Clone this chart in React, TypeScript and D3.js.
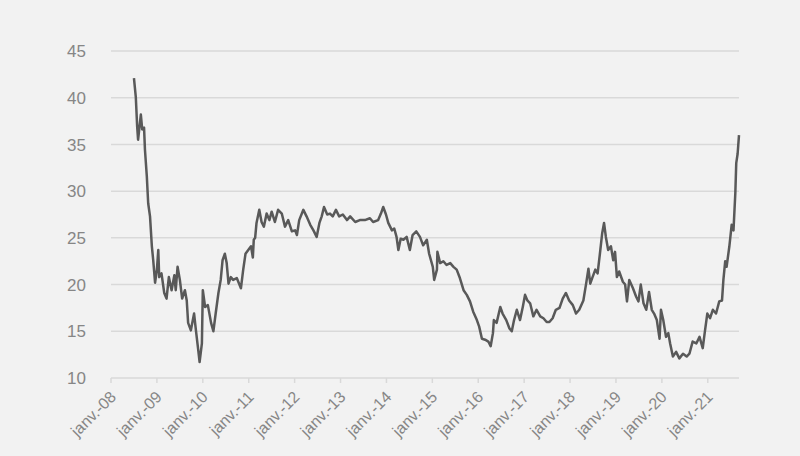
import React from "react";
import * as d3 from "d3";

// Decimal-year positions of the series samples
const years = [
  2008.50, 2008.54, 2008.57, 2008.59, 2008.65, 2008.68, 2008.72, 2008.74, 2008.78, 2008.81,
  2008.85, 2008.89, 2008.92, 2008.96, 2009.00, 2009.03, 2009.05, 2009.10, 2009.16, 2009.21,
  2009.26, 2009.32, 2009.38, 2009.41, 2009.45, 2009.50, 2009.55, 2009.61, 2009.65, 2009.68,
  2009.74, 2009.81, 2009.85, 2009.90, 2009.93, 2009.98, 2010.00, 2010.05, 2010.11, 2010.18,
  2010.23, 2010.28, 2010.34, 2010.39, 2010.43, 2010.48, 2010.52, 2010.56, 2010.61, 2010.66,
  2010.74, 2010.83, 2010.88, 2010.93, 2010.99, 2011.05, 2011.09, 2011.11, 2011.14, 2011.17,
  2011.23, 2011.28, 2011.33, 2011.39, 2011.45, 2011.50, 2011.57, 2011.64, 2011.72, 2011.79,
  2011.86, 2011.94, 2012.01, 2012.05, 2012.10, 2012.19, 2012.26, 2012.34, 2012.41, 2012.48,
  2012.54, 2012.59, 2012.64, 2012.71, 2012.77, 2012.83, 2012.90, 2012.97, 2013.05, 2013.14,
  2013.21, 2013.32, 2013.42, 2013.53, 2013.64, 2013.71, 2013.82, 2013.88, 2013.93, 2013.99,
  2014.04, 2014.12, 2014.17, 2014.22, 2014.26, 2014.31, 2014.37, 2014.44, 2014.51, 2014.57,
  2014.65, 2014.73, 2014.80, 2014.88, 2014.93, 2015.01, 2015.04, 2015.10, 2015.11, 2015.17,
  2015.24, 2015.31, 2015.39, 2015.46, 2015.53, 2015.60, 2015.68, 2015.75, 2015.82, 2015.89,
  2015.97, 2016.02, 2016.08, 2016.15, 2016.22, 2016.27, 2016.32, 2016.34, 2016.40, 2016.48,
  2016.53, 2016.61, 2016.68, 2016.73, 2016.78, 2016.84, 2016.91, 2016.97, 2017.02, 2017.07,
  2017.13, 2017.20, 2017.27, 2017.35, 2017.42, 2017.49, 2017.55, 2017.62, 2017.69, 2017.77,
  2017.84, 2017.91, 2017.98, 2018.06, 2018.13, 2018.20, 2018.29, 2018.35, 2018.40, 2018.44,
  2018.49, 2018.55, 2018.60, 2018.65, 2018.70, 2018.74, 2018.78, 2018.83, 2018.89, 2018.94,
  2018.98, 2019.02, 2019.07, 2019.15, 2019.20, 2019.24, 2019.29, 2019.37, 2019.44, 2019.49,
  2019.54, 2019.60, 2019.66, 2019.72, 2019.78, 2019.83, 2019.89, 2019.95, 2019.98, 2020.03,
  2020.09, 2020.14, 2020.18, 2020.24, 2020.31, 2020.38, 2020.46, 2020.54, 2020.60, 2020.67,
  2020.75, 2020.82, 2020.89, 2020.94, 2020.99, 2021.05, 2021.11, 2021.18, 2021.25, 2021.31,
  2021.34, 2021.38, 2021.41, 2021.47, 2021.52, 2021.56, 2021.60, 2021.62, 2021.65, 2021.68,
];

const values = [
  42.1, 40.1, 36.9, 35.5, 38.2, 36.6, 36.8, 34.4, 31.6, 28.7,
  27.3, 24.1, 22.6, 20.2, 21.6, 23.7, 20.8, 21.2, 19.1, 18.5,
  20.8, 19.4, 21.0, 19.4, 21.9, 20.5, 18.5, 19.4, 18.3, 15.9,
  15.1, 16.9, 15.1, 13.0, 11.7, 13.7, 19.4, 17.6, 17.8, 15.9,
  15.0, 16.9, 19.1, 20.5, 22.6, 23.3, 22.3, 20.1, 20.8, 20.5,
  20.7, 19.6, 21.6, 23.3, 23.7, 24.1, 22.9, 24.8, 25.0, 26.6,
  28.0, 26.7, 26.2, 27.6, 26.9, 27.8, 26.7, 28.0, 27.6, 26.2,
  26.9, 25.7, 25.8, 25.3, 26.9, 28.0, 27.3, 26.4, 25.8, 25.1,
  26.6, 27.3, 28.3, 27.5, 27.6, 27.3, 28.0, 27.3, 27.5, 26.9,
  27.3, 26.7, 26.9, 26.9, 27.1, 26.7, 26.9, 27.6, 28.3, 27.5,
  26.6, 25.8, 26.0, 25.1, 23.7, 24.9, 24.8, 25.1, 23.7, 25.3,
  25.7, 25.1, 24.2, 24.8, 23.3, 21.9, 20.5, 21.6, 23.5, 22.3,
  22.5, 22.1, 22.3, 21.9, 21.6, 20.7, 19.4, 18.9, 18.2, 17.1,
  16.2, 15.5, 14.2, 14.1, 13.9, 13.4, 14.8, 16.2, 15.9, 17.6,
  16.9, 16.2, 15.3, 15.0, 16.2, 17.3, 16.2, 17.6, 18.9, 18.3,
  18.0, 16.6, 17.3, 16.6, 16.4, 16.0, 16.0, 16.4, 17.3, 17.5,
  18.5, 19.1, 18.3, 17.8, 16.9, 17.3, 18.3, 20.1, 21.7, 20.1,
  20.8, 21.6, 21.2, 23.3, 25.5, 26.6, 25.1, 23.7, 24.1, 22.6,
  23.5, 20.8, 21.4, 20.3, 20.0, 18.2, 20.5, 19.6, 18.7, 18.2,
  20.0, 18.0, 17.3, 19.2, 17.3, 16.9, 16.2, 14.2, 17.3, 16.2,
  14.4, 14.8, 13.7, 12.3, 12.8, 12.1, 12.6, 12.3, 12.6, 13.9,
  13.7, 14.4, 13.2, 15.1, 16.9, 16.4, 17.3, 16.9, 18.2, 18.3,
  20.5, 22.5, 21.9, 24.1, 26.4, 25.8, 29.8, 33.0, 34.0, 36.0,
];

const yTicks = [10, 15, 20, 25, 30, 35, 40, 45];
const xTickYears = [2008, 2009, 2010, 2011, 2012, 2013, 2014, 2015, 2016, 2017, 2018, 2019, 2020, 2021];
const xTickLabels = [
  "janv.-08", "janv.-09", "janv.-10", "janv.-11", "janv.-12", "janv.-13", "janv.-14",
  "janv.-15", "janv.-16", "janv.-17", "janv.-18", "janv.-19", "janv.-20", "janv.-21",
];

const W = 800;
const H = 456;
const FONT = "'Liberation Sans', 'DejaVu Sans', sans-serif";

export default function App() {
  const x = d3.scaleLinear().domain([2008, 2021.68]).range([111, 739]);
  const y = d3.scaleLinear().domain([10, 45]).range([378, 51]);
  const line = d3
    .line<number>()
    .x((_, i) => x(years[i]))
    .y((v) => y(v));
  const path = line(values) || "";
  const [x0, x1] = x.range();

  return (
    <svg
      width={W}
      height={H}
      style={{ position: "absolute", left: 0, top: 0, display: "block" }}
    >
      <rect x={0} y={0} width={W} height={H} fill="#f2f2f2" />
      {yTicks.map((t) => (
        <g key={t}>
          <line x1={x0} x2={x1} y1={y(t)} y2={y(t)} stroke="#d9d9d9" strokeWidth={1.5} />
          <text
            x={86}
            y={y(t)}
            dy="0.36em"
            textAnchor="end"
            fontFamily={FONT}
            fontSize={17}
            fill="#868686"
          >
            {t}
          </text>
        </g>
      ))}
      {xTickYears.map((yr, i) => (
        <g key={yr}>
          <line x1={x(yr)} x2={x(yr)} y1={y(10)} y2={y(10) + 5} stroke="#d9d9d9" strokeWidth={1.5} />
          <text
            transform={`translate(${x(yr) + 6},${y(10) + 20}) rotate(-45)`}
            textAnchor="end"
            fontFamily={FONT}
            fontSize={16}
            fill="#868686"
          >
            {xTickLabels[i]}
          </text>
        </g>
      ))}
      <path d={path} fill="none" stroke="#595959" strokeWidth={2.5} strokeLinejoin="round" />
    </svg>
  );
}
